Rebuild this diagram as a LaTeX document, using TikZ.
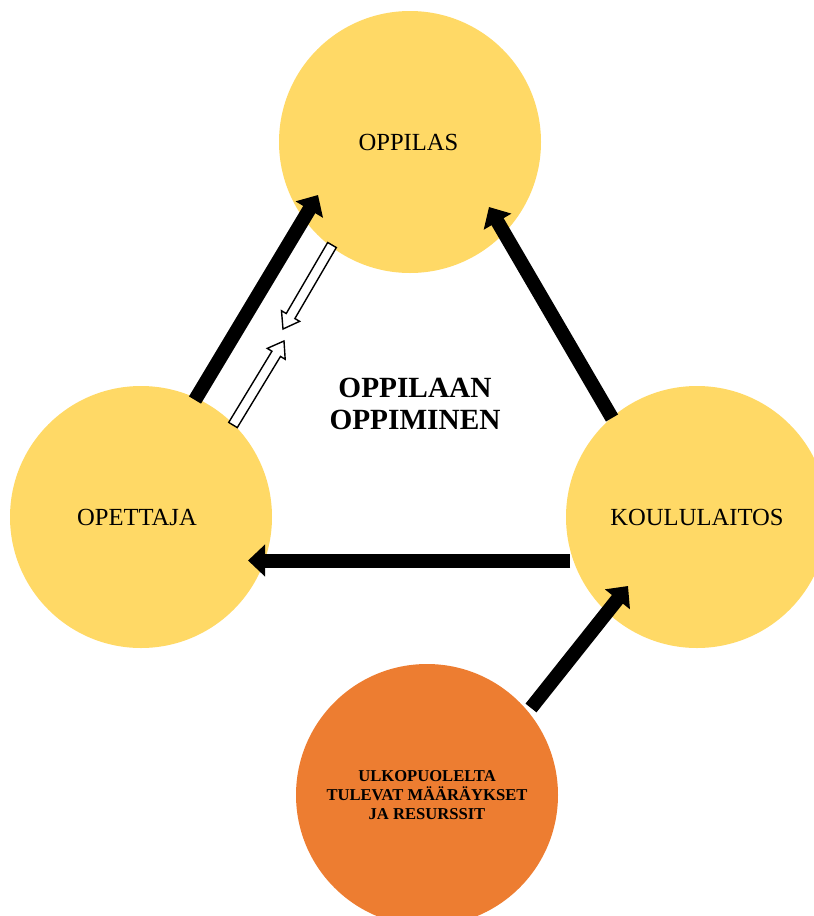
\documentclass[tikz,border=0pt]{standalone}
\usepackage{fontspec}
\setmainfont{Liberation Serif}
\usetikzlibrary{arrows.meta,calc}
\definecolor{gold}{HTML}{FFD966}
\definecolor{orng}{HTML}{ED7D31}
\tikzset{
  bubble/.style={circle,fill=gold,minimum size=262pt,inner sep=0pt,align=center,
    font=\fontsize{24.6}{28}\selectfont},
  thick arrow/.style={line width=14pt,-{Triangle[length=17pt,width=31pt]}},
  hollow/.style={draw=black,fill=white,line width=1.4pt,line join=miter},
}
\newcommand{\hollowarrow}[3]{%
  \coordinate (#3) at ($(#2)!15pt!(#1)$);
  \draw[hollow] ($(#1)!5pt!90:(#2)$) -- ($(#3)!5pt!90:(#2)$) -- ($(#3)!10.5pt!90:(#2)$)
    -- (#2) -- ($(#3)!10.5pt!-90:(#2)$) -- ($(#3)!5pt!-90:(#2)$) -- ($(#1)!5pt!-90:(#2)$) -- cycle;}
\begin{document}
\begin{tikzpicture}[x=1pt,y=-1pt]
\useasboundingbox (0,0) rectangle (814,916);
\clip (0,0) rectangle (814,916);
\node[bubble] (oppilas) at (410,142) {\hspace*{-3pt}OPPILAS};
\node[bubble] (opettaja) at (141,517) {\hspace*{-8pt}OPETTAJA};
\node[bubble] (koulu) at (697,517) {KOULULAITOS};
\node[bubble,fill=orng,font=\bfseries\fontsize{16.6}{19.3}\selectfont] (ulko) at (427,795) {ULKOPUOLELTA\\TULEVAT MÄÄRÄYKSET\\JA RESURSSIT};
\node[align=center,font=\bfseries\fontsize{29.3}{31.5}\selectfont] (center) at (415,404) {OPPILAAN\\OPPIMINEN};
% arrow end points
\coordinate (a1s) at (195,400); \coordinate (a1e) at (318,195);
\coordinate (a2s) at (612,418); \coordinate (a2e) at (489,207);
\coordinate (a3s) at (570,560.5); \coordinate (a3e) at (248,560.5);
\coordinate (a4s) at (531,708); \coordinate (a4e) at (628,586);
\draw[thick arrow] (a1s) -- (a1e);
\draw[thick arrow] (a2s) -- (a2e);
\draw[thick arrow] (a3s) -- (a3e);
\draw[thick arrow] (a4s) -- (a4e);
% hollow arrows
\coordinate (h1s) at (332,245); \coordinate (h1e) at (283,329);
\coordinate (h2s) at (233,425); \coordinate (h2e) at (284,341);
\hollowarrow{h1s}{h1e}{h1c}
\hollowarrow{h2s}{h2e}{h2c}
\end{tikzpicture}
\end{document}
